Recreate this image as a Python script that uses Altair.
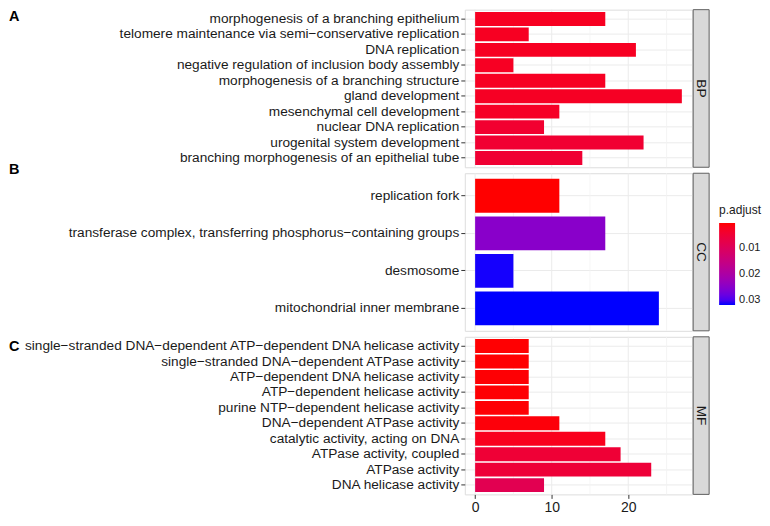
import altair as alt
import pandas as pd

FONT = "Liberation Sans"

# ---------------- data ----------------
bp_terms = [
    "morphogenesis of a branching epithelium",
    "telomere maintenance via semi\u2212conservative replication",
    "DNA replication",
    "negative regulation of inclusion body assembly",
    "morphogenesis of a branching structure",
    "gland development",
    "mesenchymal cell development",
    "nuclear DNA replication",
    "urogenital system development",
    "branching morphogenesis of an epithelial tube",
]
bp_counts = [17, 7, 21, 5, 17, 27, 11, 9, 22, 14]
bp_padj = [0.0026, 0.0027, 0.0027, 0.0028, 0.0028, 0.0029, 0.0031, 0.0043, 0.0045, 0.0046]

cc_terms = [
    "replication fork",
    "transferase complex, transferring phosphorus\u2212containing groups",
    "desmosome",
    "mitochondrial inner membrane",
]
cc_counts = [11, 17, 5, 24]
cc_padj = [0.0004, 0.0250, 0.0317, 0.0319]

mf_terms = [
    "single\u2212stranded DNA\u2212dependent ATP\u2212dependent DNA helicase activity",
    "single\u2212stranded DNA\u2212dependent ATPase activity",
    "ATP\u2212dependent DNA helicase activity",
    "ATP\u2212dependent helicase activity",
    "purine NTP\u2212dependent helicase activity",
    "DNA\u2212dependent ATPase activity",
    "catalytic activity, acting on DNA",
    "ATPase activity, coupled",
    "ATPase activity",
    "DNA helicase activity",
]
mf_counts = [7, 7, 7, 7, 7, 11, 17, 19, 23, 9]
mf_padj = [0.0005, 0.0005, 0.0006, 0.0006, 0.0006, 0.0009, 0.0022, 0.0050, 0.0052, 0.0085]

strips = ["BP", "CC", "MF"]
letters = ["A", "B", "C"]
major_breaks = [0, 10, 20]
minor_breaks = [5, 15, 25]
legend_values = [0.01, 0.02, 0.03]

# ---------------- layout ----------------
W = 228
H = 158
GAP = 6
LEFT = 457
X_DOMAIN = [-1.35, 28.35]
P_MIN = min(bp_padj + cc_padj + mf_padj)
P_MAX = max(bp_padj + cc_padj + mf_padj)

xscale = alt.Scale(domain=X_DOMAIN, nice=False, zero=False)

color_enc = alt.Color(
    "neg_p:Q",
    scale=alt.Scale(domain=[-P_MAX, -P_MIN], range=["blue", "red"], interpolate="lab"),
    legend=alt.Legend(
        title="p.adjust",
        values=[-v for v in legend_values],
        labelExpr="format(-datum.value, '.2f')",
        orient="none",
        legendX=W + 27,
        legendY=196,
        direction="vertical",
        gradientLength=82,
        gradientThickness=16,
        gradientStrokeWidth=0,
        titleFont=FONT,
        titleFontSize=12,
        titleFontWeight="normal",
        titleColor="#1A1A1A",
        titlePadding=6,
        labelFont=FONT,
        labelFontSize=11,
        labelColor="#1A1A1A",
        labelOffset=4,
        padding=0,
    ),
)


def panel(terms, counts, padj, strip, letter, letter_y, show_x):
    df = pd.DataFrame({"term": terms, "count": counts, "p": padj})
    if show_x:
        xaxis = alt.Axis(
            values=major_breaks, grid=False, domain=False, tickSize=4,
            tickColor="#333333", labelFontSize=14, labelColor="#1A1A1A",
            labelFont=FONT, labelPadding=2, title=None, format="d",
        )
    else:
        xaxis = None

    major = alt.Chart(pd.DataFrame({"v": major_breaks})).mark_rule(
        color="#EBEBEB", strokeWidth=1
    ).encode(x=alt.X("v:Q", scale=xscale, axis=xaxis))
    minor = alt.Chart(pd.DataFrame({"v": minor_breaks})).mark_rule(
        color="#F2F2F2", strokeWidth=0.8
    ).encode(x=alt.X("v:Q", scale=xscale, axis=xaxis))

    bars = alt.Chart(df).transform_calculate(neg_p="-datum.p").mark_bar().encode(
        x=alt.X("count:Q", scale=xscale, axis=xaxis),
        x2=alt.datum(0),
        y=alt.Y(
            "term:N", sort=terms,
            scale=alt.Scale(paddingInner=0.1, paddingOuter=0.15),
            axis=alt.Axis(
                title=None, labelFontSize=13.7, labelColor="#1A1A1A", labelFont=FONT,
                tickColor="#333333", tickSize=4, labelPadding=2, domain=False,
                grid=True, gridColor="#EBEBEB", bandPosition=0.5, labelLimit=0,
            ),
        ),
        color=color_enc,
    )

    sdf = pd.DataFrame({"strip": [strip], "letter": [letter]})
    strip_rect = alt.Chart(sdf).mark_rect(
        fill="#D9D9D9", stroke="#5F5F5F", strokeWidth=1
    ).encode(
        x=alt.value(W + 1), x2=alt.value(W + 17), y=alt.value(0), y2=alt.value(H)
    )
    strip_text = alt.Chart(sdf).mark_text(
        angle=90, fontSize=13.7, font=FONT, color="#1A1A1A", baseline="middle", align="center"
    ).encode(x=alt.value(W + 9), y=alt.value(H / 2), text="strip:N")
    letter_text = alt.Chart(sdf).mark_text(
        align="left", baseline="middle", fontSize=14.5, fontWeight="bold", font=FONT, color="#000000"
    ).encode(x=alt.value(-LEFT), y=alt.value(letter_y), text="letter:N")

    return alt.layer(minor, major, bars, strip_rect, strip_text, letter_text).properties(
        width=W, height=H
    )


p1 = panel(bp_terms, bp_counts, bp_padj, strips[0], letters[0], 7.5, False)
p2 = panel(cc_terms, cc_counts, cc_padj, strips[1], letters[1], -3, False)
p3 = panel(mf_terms, mf_counts, mf_padj, strips[2], letters[2], 10, True)

chart = alt.vconcat(p1, p2, p3, spacing=GAP, bounds="flush").properties(
    padding={"left": 0, "top": 0, "right": 0, "bottom": 0}
).configure_view(
    stroke="#5F5F5F", strokeWidth=1
).configure(background="white")

chart.save("out.html", embed_options={"renderer": "svg", "actions": False})
